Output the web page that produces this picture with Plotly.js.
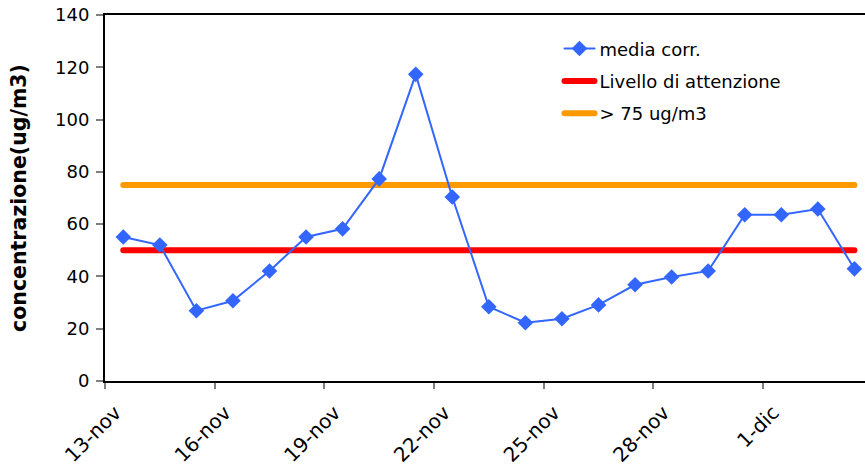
<!DOCTYPE html>
<html>
<head>
<meta charset="utf-8">
<script src="https://cdn.plot.ly/plotly-3.0.1.min.js"></script>
<style>
html,body{margin:0;padding:0;overflow:hidden;background:#fff}
#chart path.js-line{stroke-linecap:round}
</style>
</head>
<body>
<div id="chart" style="width:865px;height:470px"></div>
<script>
var dates = ["13-nov","14-nov","15-nov","16-nov","17-nov","18-nov","19-nov","20-nov","21-nov","22-nov","23-nov","24-nov","25-nov","26-nov","27-nov","28-nov","29-nov","30-nov","1-dic","2-dic","3-dic"];
var mediaCorr = [55.1, 52.0, 26.9, 30.7, 42.1, 55.1, 58.2, 77.3, 117.3, 70.4, 28.4, 22.3, 23.8, 29.1, 36.8, 39.8, 42.1, 63.6, 63.6, 65.8, 42.9];
var livelloAttenzione = [50,50,50,50,50,50,50,50,50,50,50,50,50,50,50,50,50,50,50,50,50];
var soglia75 = [75,75,75,75,75,75,75,75,75,75,75,75,75,75,75,75,75,75,75,75,75];
var seriesNames = ["media corr.", "Livello di attenzione", "> 75 ug/m3"];

var traces = [
  {x: dates, y: livelloAttenzione, name: seriesNames[1], type: "scatter", mode: "lines",
   line: {color: "#FF0000", width: 6}, legendrank: 2, legendgroup: "g2"},
  {x: dates, y: soglia75, name: seriesNames[2], type: "scatter", mode: "lines",
   line: {color: "#FF9900", width: 6}, legendrank: 3, legendgroup: "g3"},
  {x: dates, y: mediaCorr, name: seriesNames[0], type: "scatter", mode: "lines+markers",
   line: {color: "#3366FF", width: 2}, marker: {symbol: "diamond", size: 12, color: "#3366FF"},
   legendrank: 1, legendgroup: "g1"}
];

var layout = {
  width: 865, height: 470,
  margin: {l: 105, r: 0, t: 15, b: 89},
  paper_bgcolor: "#fff", plot_bgcolor: "#fff",
  font: {family: "DejaVu Sans, sans-serif", color: "#000"},
  showlegend: true,
  legend: {x: 0.598, y: 0.958, xanchor: "left", yanchor: "top", bgcolor: "rgba(0,0,0,0)",
           font: {family: "DejaVu Sans, sans-serif", size: 18, color: "#000"},
           traceorder: "grouped", tracegroupgap: 6},
  xaxis: {
    type: "category", range: [-0.5, 20.29], tickmode: "linear", tick0: 0, dtick: 3,
    tickson: "boundaries", ticks: "outside", ticklen: 6, tickwidth: 2, tickcolor: "#808080",
    tickangle: -45, tickfont: {size: 20, family: "DejaVu Sans, sans-serif"},
    ticklabelstandoff: 10, ticklabelshift: -8,
    showline: true, linecolor: "#000", linewidth: 2, mirror: true,
    showgrid: false, zeroline: false, fixedrange: true
  },
  yaxis: {
    range: [0, 140], tickmode: "linear", tick0: 0, dtick: 20,
    ticks: "outside", ticklen: 7, tickwidth: 2, tickcolor: "#808080",
    tickfont: {size: 18, family: "DejaVu Sans, sans-serif"}, ticklabelstandoff: 3,
    showline: true, linecolor: "#000", linewidth: 2,
    showgrid: false, zeroline: false, fixedrange: true,
    title: {text: "concentrazione(ug/m3)", font: {size: 20.5, family: "DejaVu Sans, sans-serif", weight: "bold"}, standoff: 23}
  }
};

Plotly.newPlot("chart", traces, layout, {displayModeBar: false, staticPlot: true});
</script>
</body>
</html>
